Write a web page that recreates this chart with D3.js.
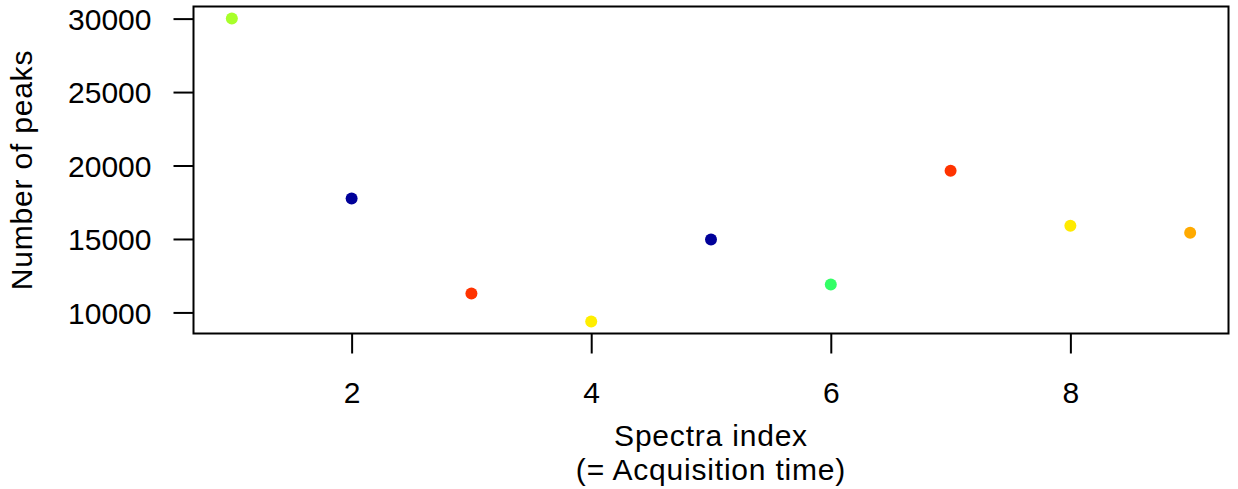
<!DOCTYPE html>
<html><head><meta charset="utf-8">
<script src="https://cdn.jsdelivr.net/npm/d3@7"></script>
<style>body{margin:0;background:#fff}svg{display:block}text{font-family:"Liberation Sans",Arial,sans-serif;fill:#000}</style>
</head><body>
<script>
const spectraIndex = [1,2,3,4,5,6,7,8,9];
const peakCounts = [30000,17760,11290,9390,14960,11900,19650,15900,15420];
const pointColors = ["#A8FF2A","#000099","#FF3300","#FFEE00","#000099","#33FF66","#FF3300","#FFEA00","#FFAA00"];
const xTicks = [2,4,6,8];
const yTicks = [10000,15000,20000,25000,30000];

const W=1238,H=489, FS=30;
const L=193.5,R=1228.5,T=6.5,B=333.5;
const svg=d3.select("body").append("svg").attr("width",W).attr("height",H);

const xr=d3.extent(spectraIndex), yr=d3.extent(peakCounts);
const xp=(xr[1]-xr[0])*0.04, yp=(yr[1]-yr[0])*0.04;
const x=d3.scaleLinear().domain([xr[0]-xp,xr[1]+xp]).range([L,R]);
const y=d3.scaleLinear().domain([yr[0]-yp,yr[1]+yp]).range([B,T]);

svg.append("rect").attr("x",L).attr("y",T).attr("width",R-L).attr("height",B-T)
  .attr("fill","none").attr("stroke","#000").attr("stroke-width",2);

const xa=svg.append("g").attr("transform",`translate(0,${B})`)
  .call(d3.axisBottom(x).tickValues(xTicks).tickSize(20).tickFormat(d3.format("d")));
const ya=svg.append("g").attr("transform",`translate(${L},0)`)
  .call(d3.axisLeft(y).tickValues(yTicks).tickSize(20).tickPadding(22).tickFormat(d3.format("d")));
[xa,ya].forEach(a=>{
  a.select(".domain").remove();
  a.selectAll("line").attr("stroke","#000").attr("stroke-width",2);
  a.selectAll("text").attr("font-size",FS).style("font-family",'"Liberation Sans",Arial,sans-serif');
});
xa.selectAll("text").attr("y",69).attr("dy",0);
ya.selectAll("text").attr("dy","0.36em");

svg.append("g").selectAll("circle").data(spectraIndex).join("circle")
  .attr("cx",(d)=>x(d)).attr("cy",(d,i)=>y(peakCounts[i])).attr("r",6)
  .attr("fill",(d,i)=>pointColors[i]);

const titles=svg.append("g").attr("font-size",FS).attr("letter-spacing","0.8px");
titles.append("text").attr("x",(L+R)/2).attr("y",446).attr("text-anchor","middle").text("Spectra index");
titles.append("text").attr("x",(L+R)/2).attr("y",480).attr("text-anchor","middle").text("(= Acquisition time)");
titles.append("text").attr("transform",`translate(32,${(T+B)/2}) rotate(-90)`).attr("text-anchor","middle").text("Number of peaks");
</script>
</body></html>
